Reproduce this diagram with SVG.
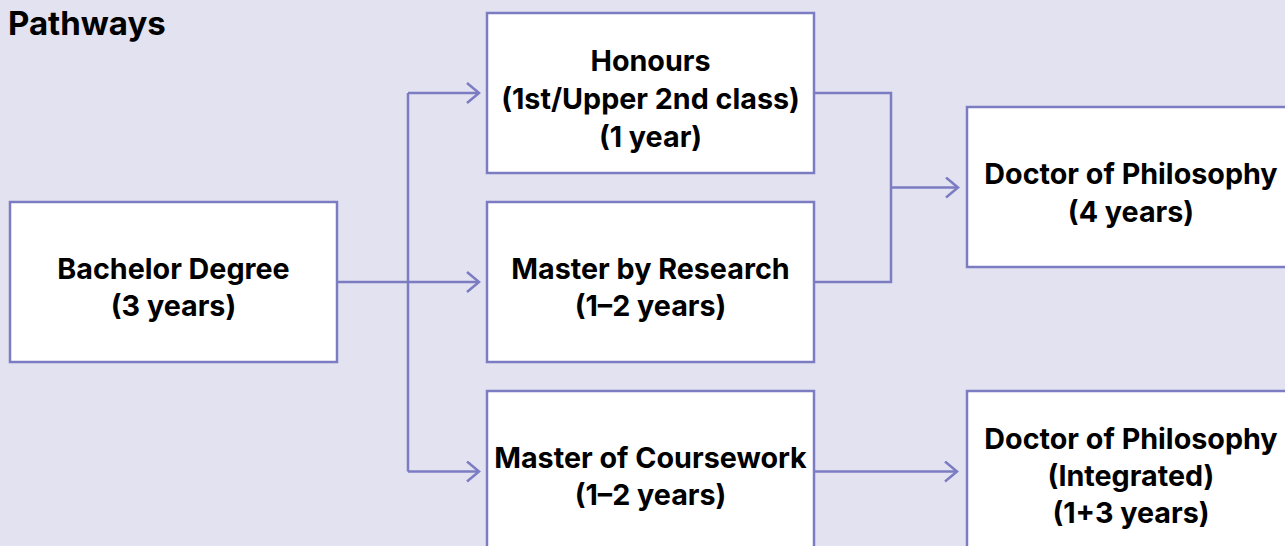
<svg xmlns="http://www.w3.org/2000/svg" width="1285" height="546" viewBox="0 0 1285 546">
<defs>
<style>
.bg{fill:#e3e2f1}
.box{fill:#ffffff;stroke:#7b7cc2;stroke-width:2.5}
.ln{fill:none;stroke:#7b7cc2;stroke-width:2.5}
.t{font-family:Inter,"Liberation Sans",sans-serif;font-weight:700;font-size:28.7px;fill:#000;text-anchor:middle;dominant-baseline:central}
.title{font-family:Inter,"Liberation Sans",sans-serif;font-weight:700;font-size:33px;fill:#000}
</style>
<marker id="arr" markerWidth="16" markerHeight="24" refX="13" refY="11" orient="auto" markerUnits="userSpaceOnUse">
<path d="M1,1 L13,11 L1,21" fill="none" stroke="#7b7cc2" stroke-width="2.5"/>
</marker>
</defs>
<rect class="bg" x="0" y="0" width="1285" height="546"/>
<text class="title" x="8" y="35">Pathways</text>
<g id="connectors">
<line class="ln" x1="337" y1="282" x2="479" y2="282" marker-end="url(#arr)"/>
<polyline class="ln" points="408,93 408,471.5"/>
<line class="ln" x1="408" y1="93" x2="479" y2="93" marker-end="url(#arr)"/>
<line class="ln" x1="408" y1="471.5" x2="479" y2="471.5" marker-end="url(#arr)"/>
<polyline class="ln" points="814,93 891,93 891,282 814,282"/>
<line class="ln" x1="891" y1="187.5" x2="958" y2="187.5" marker-end="url(#arr)"/>
<line class="ln" x1="814" y1="471.5" x2="957" y2="471.5" marker-end="url(#arr)"/>
</g>
<g id="bachelor">
<rect class="box" x="10" y="202" width="327" height="160"/>
<text class="t" x="173.5" y="268">Bachelor Degree</text>
<text class="t" x="173.5" y="305">(3 years)</text>
</g>
<g id="honours">
<rect class="box" x="487" y="13" width="327" height="160"/>
<text class="t" x="650.5" y="60">Honours</text>
<text class="t" x="650.5" y="98">(1st/Upper 2nd class)</text>
<text class="t" x="650.5" y="136">(1 year)</text>
</g>
<g id="master-research">
<rect class="box" x="487" y="202" width="327" height="160"/>
<text class="t" x="650.5" y="268">Master by Research</text>
<text class="t" x="650.5" y="305">(1–2 years)</text>
</g>
<g id="master-coursework">
<rect class="box" x="487" y="391" width="327" height="160"/>
<text class="t" x="650.5" y="457">Master of Coursework</text>
<text class="t" x="650.5" y="494">(1–2 years)</text>
</g>
<g id="phd">
<rect class="box" x="967" y="107" width="327" height="160"/>
<text class="t" x="1131" y="173">Doctor of Philosophy</text>
<text class="t" x="1131" y="211">(4 years)</text>
</g>
<g id="phd-integrated">
<rect class="box" x="967" y="391" width="327" height="160"/>
<text class="t" x="1131" y="438">Doctor of Philosophy</text>
<text class="t" x="1131" y="475">(Integrated)</text>
<text class="t" x="1131" y="512">(1+3 years)</text>
</g>
</svg>
